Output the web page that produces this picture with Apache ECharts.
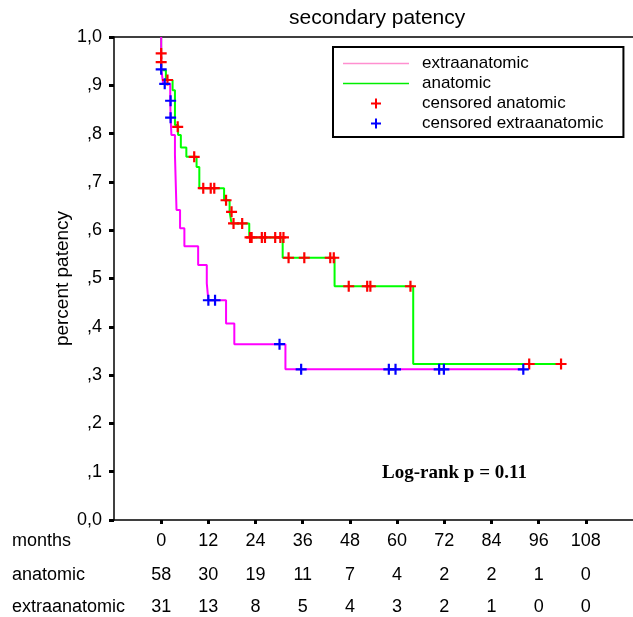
<!DOCTYPE html>
<html><head><meta charset="utf-8">
<script src="https://cdn.jsdelivr.net/npm/echarts@6/dist/echarts.min.js"></script>
<style>html,body{margin:0;padding:0;background:#fff}#c{width:633px;height:617px}</style>
</head><body><div id="c"></div>
<script>
// ---- data ----
const monthTicks = [0, 12, 24, 36, 48, 60, 72, 84, 96, 108];
const atRiskAnatomic = [58, 30, 19, 11, 7, 4, 2, 2, 1, 0];
const atRiskExtra = [31, 13, 8, 5, 4, 3, 2, 1, 0, 0];
const yTickLabels = ['0,0', ',1', ',2', ',3', ',4', ',5', ',6', ',7', ',8', ',9', '1,0'];
const rowLabels = ['months', 'anatomic', 'extraanatomic'];

// Kaplan-Meier steps: [month, survival from this month on]
const anatomicSteps = [[0, 1.0], [0, 0.931], [1.2, 0.911], [2.9, 0.89], [3.5, 0.818], [4.3, 0.797], [5.0, 0.771], [6.4, 0.752], [9.0, 0.731], [9.7, 0.687], [16.0, 0.662], [17.4, 0.638], [17.9, 0.614], [22.4, 0.585], [30.9, 0.543], [44.1, 0.484], [64.1, 0.323], [101.7, 0.323]];
const extraSteps = [[0, 1.0], [0, 0.935], [0.5, 0.903], [2.3, 0.868], [2.4, 0.833], [2.6, 0.797], [3.5, 0.756], [3.9, 0.642], [4.8, 0.604], [5.9, 0.567], [9.4, 0.528], [11.6, 0.49], [12.0, 0.455], [16.5, 0.407], [18.6, 0.364], [31.6, 0.312], [92.3, 0.312]];
const censoredAnatomic = [[0, 0.966], [0, 0.948], [1.6, 0.911], [4.2, 0.814], [8.4, 0.752], [10.7, 0.687], [12.6, 0.687], [13.5, 0.687], [16.5, 0.662], [17.9, 0.638], [18.4, 0.614], [20.6, 0.614], [22.6, 0.585], [23.0, 0.585], [25.6, 0.585], [26.4, 0.585], [29.0, 0.585], [30.3, 0.585], [31.1, 0.585], [32.4, 0.543], [36.4, 0.543], [43.0, 0.543], [43.9, 0.543], [47.7, 0.484], [52.4, 0.484], [53.2, 0.484], [63.4, 0.484], [93.6, 0.323], [101.7, 0.323]];
const censoredExtra = [[0, 0.933], [0.9, 0.903], [2.4, 0.868], [2.4, 0.833], [12.0, 0.455], [13.7, 0.455], [30.1, 0.364], [35.6, 0.312], [57.9, 0.312], [59.6, 0.312], [70.7, 0.312], [71.9, 0.312], [92.1, 0.312]];
const logRankText = 'Log-rank p = 0.11';
const titleText = 'secondary patency';
const yName = 'percent patency';

// ---- chart ----
const FONT = '"Liberation Sans", Arial, sans-serif';
const PLUS = 'path://M4,0H6V4H10V6H6V10H4V6H0V4H4Z';
const LINE_ICON = 'path://M0,0H66V1.6H0Z';
const chart = echarts.init(document.getElementById('c'), null, { renderer: 'canvas' });

function baseX(extra) {
  return Object.assign({
    type: 'value', gridIndex: 0, min: -12, max: 120, interval: 12,
    splitLine: { show: false }
  }, extra);
}
function rowFormatter(arr) {
  return function (v) {
    const i = monthTicks.indexOf(v);
    return i >= 0 ? String(arr[i]) : '';
  };
}
const lblStyle = { fontSize: 18, color: '#000', fontFamily: FONT, margin: 12, showMinLabel: false, showMaxLabel: false };

const option = {
  backgroundColor: '#fff',
  animation: false,
  grid: { left: 114, right: 0, top: 37, bottom: 97, containLabel: false },
  legend: {
    orient: 'vertical', left: 333, top: 47,
    itemWidth: 66, itemHeight: 10, itemGap: 3,
    padding: [8, 20, 5, 10],
    borderColor: '#000', borderWidth: 2, borderRadius: 0,
    backgroundColor: '#fff',
    textStyle: { fontSize: 17, color: '#000', fontFamily: FONT, padding: [0, 0, 0, 8] },
    data: [
      { name: 'extraanatomic', icon: LINE_ICON, itemStyle: { color: '#ff8fd0' } },
      { name: 'anatomic', icon: LINE_ICON, itemStyle: { color: '#00ee00' } },
      { name: 'censored anatomic', icon: PLUS },
      { name: 'censored extraanatomic', icon: PLUS }
    ]
  },
  xAxis: [
    baseX({
      position: 'bottom',
      axisLine: { onZero: false, lineStyle: { color: '#000', width: 1.5 } },
      axisTick: { length: 4, lineStyle: { color: '#000', width: 3 } },
      axisLabel: Object.assign({}, lblStyle, { formatter: v => monthTicks.indexOf(v) >= 0 ? String(v) : '' })
    }),
    baseX({
      position: 'bottom', offset: 34,
      axisLine: { show: false }, axisTick: { show: false },
      axisLabel: Object.assign({}, lblStyle, { formatter: rowFormatter(atRiskAnatomic) })
    }),
    baseX({
      position: 'bottom', offset: 66,
      axisLine: { show: false }, axisTick: { show: false },
      axisLabel: Object.assign({}, lblStyle, { formatter: rowFormatter(atRiskExtra) })
    }),
    baseX({
      position: 'top',
      axisLine: { onZero: false, lineStyle: { color: '#000', width: 1.5 } },
      axisTick: { show: false }, axisLabel: { show: false }
    })
  ],
  yAxis: {
    type: 'value', min: 0, max: 1, interval: 0.1,
    name: yName, nameLocation: 'middle', nameGap: 42, nameMoveOverlap: false,
    nameTextStyle: { fontSize: 19, color: '#000', fontFamily: FONT },
    axisLine: { show: true, onZero: false, lineStyle: { color: '#000', width: 1.5 } },
    axisTick: { show: true, length: 5, lineStyle: { color: '#000', width: 3 } },
    axisLabel: {
      fontSize: 18, color: '#000', fontFamily: FONT, margin: 12,
      formatter: v => yTickLabels[Math.round(v * 10)]
    },
    splitLine: { show: false }
  },
  series: [
    {
      name: 'anatomic', type: 'line', step: 'end', symbol: 'none', showSymbol: false,
      data: anatomicSteps, lineStyle: { color: '#00ff00', width: 2 }, itemStyle: { color: '#00ff00' }, z: 2
    },
    {
      name: 'extraanatomic', type: 'line', step: 'end', symbol: 'none', showSymbol: false,
      data: extraSteps, lineStyle: { color: '#ff00ff', width: 2 }, itemStyle: { color: '#ff00ff' }, z: 3
    },
    {
      name: 'censored anatomic', type: 'scatter', symbol: PLUS, symbolSize: 11,
      data: censoredAnatomic, itemStyle: { color: '#ff0000', opacity: 1 }, z: 4
    },
    {
      name: 'censored extraanatomic', type: 'scatter', symbol: PLUS, symbolSize: 11,
      data: censoredExtra, itemStyle: { color: '#0000ff', opacity: 1 }, z: 5
    }
  ],
  graphic: [
    { type: 'text', left: 289, top: 8, style: { text: titleText, fill: '#000', font: '21px ' + FONT } },
    { type: 'text', left: 382, top: 464, style: { text: logRankText, fill: '#000', font: 'bold 19px "Liberation Serif", serif' } },
    { type: 'text', left: 12, top: 532, style: { text: rowLabels[0], fill: '#000', font: '18px ' + FONT } },
    { type: 'text', left: 12, top: 566, style: { text: rowLabels[1], fill: '#000', font: '18px ' + FONT } },
    { type: 'text', left: 12, top: 598, style: { text: rowLabels[2], fill: '#000', font: '18px ' + FONT } }
  ]
};
chart.setOption(option);
</script>
</body></html>
